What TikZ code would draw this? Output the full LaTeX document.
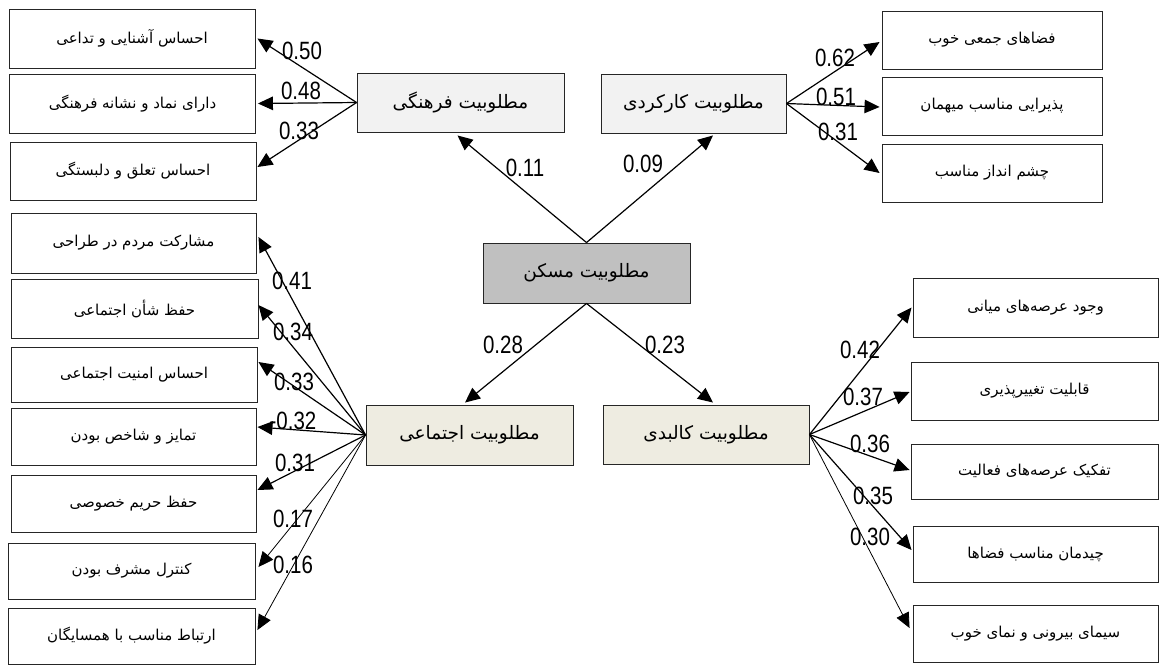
\documentclass[tikz,border=0pt]{standalone}
\usepackage{fontspec}
\usetikzlibrary{arrows.meta}
\TeXXeTstate=1
\newfontfamily\fafont[Script=Arabic]{DejaVu Sans}
\newfontfamily\numfont[FakeStretch=0.82]{Liberation Sans}
\definecolor{catgray}{HTML}{F2F2F2}
\definecolor{catbeige}{HTML}{EEECE1}
\definecolor{maingray}{HTML}{C0C0C0}
\tikzset{
  leaf/.style={draw=black!85, line width=0.9pt, fill=white, minimum width=246pt, inner sep=0pt, font=\fafont\fontsize{15}{17}\selectfont},
  cat/.style={draw=black!85, line width=0.9pt, minimum width=207pt, minimum height=59pt, inner sep=0pt, font=\fafont\fontsize{18.5}{21}\selectfont},
  arr/.style={line width=1.2pt, -{Triangle[length=15pt,width=13.5pt]}},
  thinarr/.style={line width=0.8pt, -{Triangle[length=15pt,width=13.5pt]}},
  coef/.style={font=\numfont\fontsize{25}{25}\selectfont, inner sep=0pt}
}
\begin{document}
\begin{tikzpicture}[x=1pt,y=-1pt]
\useasboundingbox (0,0) rectangle (1161,665);
\fill[white] (0,0) rectangle (1161,665);
% category boxes
\node[cat, fill=maingray, minimum height=60pt] (M) at (586.5,273) {\beginR مطلوبیت مسکن\endR};
\node[cat, fill=catgray] (C) at (460.5,102.5) {\beginR مطلوبیت فرهنگی\endR};
\node[cat, fill=catgray, minimum width=185pt] (F) at (693.5,103.5) {\beginR مطلوبیت کارکردی\endR};
\node[cat, fill=catbeige, minimum height=60pt] (S) at (469.5,435) {\beginR مطلوبیت اجتماعی\endR};
\node[cat, fill=catbeige, minimum width=206pt] (P) at (706,434.5) {\beginR مطلوبیت کالبدی\endR};
% cultural leaves
\node[leaf, minimum height=59pt] (L1) at (132,38.5) {\beginR احساس آشنایی و تداعی\endR};
\node[leaf, minimum height=59pt] (L2) at (132.5,103.5) {\beginR دارای نماد و نشانه فرهنگی\endR};
\node[leaf, minimum height=58pt] (L3) at (133,171) {\beginR احساس تعلق و دلبستگی\endR};
% functional leaves
\node[leaf, minimum width=220pt, minimum height=58pt] (R1) at (992,40) {\beginR فضاهای جمعی خوب\endR};
\node[leaf, minimum width=220pt, minimum height=58pt] (R2) at (992,106) {\beginR پذیرایی مناسب میهمان\endR};
\node[leaf, minimum width=220pt, minimum height=58pt] (R3) at (992,173) {\beginR چشم انداز مناسب\endR};
% social leaves
\node[leaf, minimum width=245pt, minimum height=60pt] (B1) at (133.5,243) {\beginR مشارکت مردم در طراحی\endR};
\node[leaf, minimum width=247pt, minimum height=59pt] (B2) at (134.5,308.5) {\beginR حفظ شأن اجتماعی\endR};
\node[leaf, minimum width=246pt, minimum height=55pt] (B3) at (134,374.5) {\beginR احساس امنیت اجتماعی\endR};
\node[leaf, minimum width=245pt, minimum height=57pt] (B4) at (133.5,436.5) {\beginR تمایز و شاخص بودن\endR};
\node[leaf, minimum width=245pt, minimum height=57pt] (B5) at (133.5,503.5) {\beginR حفظ حریم خصوصی\endR};
\node[leaf, minimum width=247pt, minimum height=56pt] (B6) at (131.5,571) {\beginR کنترل مشرف بودن\endR};
\node[leaf, minimum width=247pt, minimum height=56pt] (B7) at (131.5,636) {\beginR ارتباط مناسب با همسایگان\endR};
% physical leaves
\node[leaf, minimum width=245pt, minimum height=59pt] (P1) at (1035.5,307.5) {\beginR وجود عرصه^^^^200cهای میانی\endR};
\node[leaf, minimum width=247pt, minimum height=58pt] (P2) at (1034.5,391) {\beginR قابلیت تغییرپذیری\endR};
\node[leaf, minimum width=247pt, minimum height=55pt] (P3) at (1034.5,471.5) {\beginR تفکیک عرصه^^^^200cهای فعالیت\endR};
\node[leaf, minimum width=245pt, minimum height=56pt] (P4) at (1035.5,554) {\beginR چیدمان مناسب فضاها\endR};
\node[leaf, minimum width=245pt, minimum height=57pt] (P5) at (1035.5,633.5) {\beginR سیمای بیرونی و نمای خوب\endR};
% main arrows
\draw[arr] (M.north) -- ([xshift=-3pt,yshift=-3pt]C.south);
\draw[arr] (M.north) -- ([xshift=19.5pt,yshift=-2pt]F.south);
\draw[arr] (M.south) -- ([xshift=-4.5pt,yshift=2pt]S.north);
\draw[arr] (M.south) -- ([xshift=7pt,yshift=2pt]P.north);
% cultural arrows
\draw[arr] (C.west) -- ([xshift=2pt]L1.east);
\draw[arr] (C.west) -- ([xshift=2pt]L2.east);
\draw[arr] (C.west) -- ([xshift=1pt,yshift=4pt]L3.east);
% functional arrows
\draw[arr] (F.east) -- ([xshift=-2pt,yshift=-2pt]R1.west);
\draw[arr] (F.east) -- ([xshift=-2pt,yshift=-1pt]R2.west);
\draw[arr] (F.east) -- ([xshift=-2pt]R3.west);
% social arrows
\draw[arr] (S.west) -- ([xshift=2pt,yshift=6pt]B1.east);
\draw[arr] (S.west) -- ([xshift=0pt,yshift=3.5pt]B2.east);
\draw[arr] (S.west) -- ([xshift=1pt,yshift=12.5pt]B3.east);
\draw[arr] (S.west) -- ([xshift=1pt,yshift=9.5pt]B4.east);
\draw[arr] (S.west) -- ([xshift=1pt,yshift=13.5pt]B5.east);
\draw[thinarr] (S.west) -- ([xshift=3pt,yshift=4pt]B6.east);
\draw[thinarr] (S.west) -- ([xshift=2pt,yshift=6pt]B7.east);
% physical arrows
\draw[arr] (P.east) -- ([xshift=-1pt]P1.west);
\draw[arr] (P.east) -- ([xshift=-1pt,yshift=-1pt]P2.west);
\draw[arr] (P.east) -- ([xshift=-1pt,yshift=1.5pt]P3.west);
\draw[arr] (P.east) -- ([xshift=-1pt,yshift=4pt]P4.west);
\draw[thinarr] (P.east) -- ([xshift=-3pt,yshift=5.5pt]P5.west);
% coefficients
\node[coef] (c11) at (525,168) {0.11};
\node[coef] (c09) at (643,164) {0.09};
\node[coef] (c28) at (503,345) {0.28};
\node[coef] (c23) at (665,345) {0.23};
\node[coef] (c50) at (302,51) {0.50};
\node[coef] (c48) at (301,91) {0.48};
\node[coef] (c33a) at (299,131) {0.33};
\node[coef] (c62) at (835,58) {0.62};
\node[coef] (c51) at (836,97) {0.51};
\node[coef] (c31a) at (838,132) {0.31};
\node[coef] (c41) at (292,281) {0.41};
\node[coef] (c34) at (293,332) {0.34};
\node[coef] (c33b) at (294,382) {0.33};
\node[coef] (c32) at (293,421) {-0.32};
\node[coef] (c31b) at (295,463) {0.31};
\node[coef] (c17) at (293,519) {0.17};
\node[coef] (c16) at (293,565) {0.16};
\node[coef] (c42) at (860,350) {0.42};
\node[coef] (c37) at (863,397) {0.37};
\node[coef] (c36) at (870,444) {0.36};
\node[coef] (c35) at (873,496) {0.35};
\node[coef] (c30) at (870,537) {0.30};
\end{tikzpicture}
\end{document}
